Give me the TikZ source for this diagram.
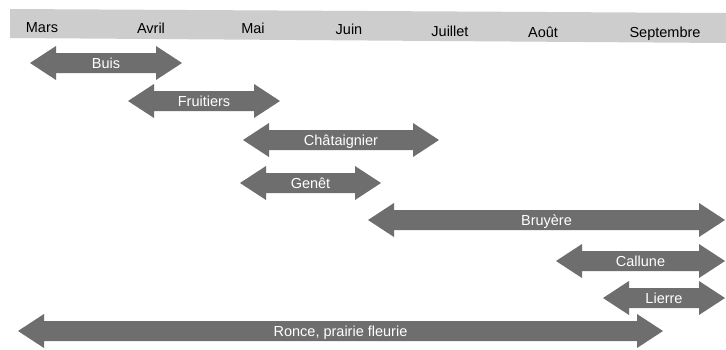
\documentclass[tikz,border=0pt]{standalone}
\usepackage{fontspec}
\setmainfont{Liberation Sans}
\definecolor{bandgray}{HTML}{CDCDCD}
\definecolor{arrowgray}{HTML}{6E6E6E}
% a double-headed period bar from x=#2 to x=#3 at height #4, labelled #5
\newcommand\period[5]{%
  \fill[arrowgray] (#2,#4) -- (#2+26,#4-17) -- (#2+26,#4-10) -- (#3-26,#4-10)
    -- (#3-26,#4-17) -- (#3,#4) -- (#3-26,#4+17) -- (#3-26,#4+10)
    -- (#2+26,#4+10) -- (#2+26,#4+17) -- cycle;
  \node[barlabel] (#1) at ({(#2+#3)/2},#4+5) {#5};}
\begin{document}
\begin{tikzpicture}[x=1pt,y=-1pt,
  month/.style={anchor=base, inner sep=0pt, text=black,
    font=\fontsize{14.5}{16}\selectfont},
  barlabel/.style={anchor=base, inner sep=0pt, text=white,
    font=\fontsize{14.5}{16}\selectfont}]
\useasboundingbox (0,0) rectangle (726,349);
\fill[white] (0,0) rectangle (726,349);

% month band
\fill[bandgray] (10,9) -- (726,13) -- (726,43) -- (10,38) -- cycle;
\node[month] (mars)  at (42,32.5)  {Mars};
\node[month] (avril) at (151,33)   {Avril};
\node[month] (mai)   at (253,33.5) {Mai};
\node[month] (juin)  at (349,34.5) {Juin};
\node[month] (juil)  at (450,36)   {Juillet};
\node[month] (aout)  at (543,37)   {Août};
\node[month] (sept)  at (665,37.5) {Septembre};

% flowering periods
\period{buis}{30}{182}{63}{Buis}
\period{fruit}{128}{280}{101}{Fruitiers}
\period{chat}{243}{439}{140}{Châtaignier}
\period{genet}{240}{381}{183}{Genêt}
\period{bruy}{368}{725}{220}{Bruyère}
\period{call}{556}{725}{261}{Callune}
\period{lier}{603}{725}{298}{Lierre}
\period{ronce}{18}{663}{331}{Ronce, prairie fleurie}
\end{tikzpicture}
\end{document}
